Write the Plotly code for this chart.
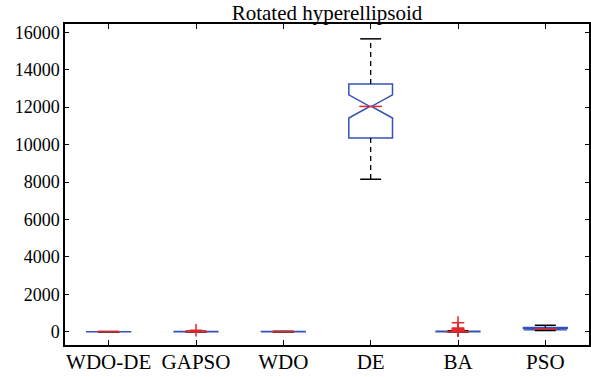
import plotly.graph_objects as go

# ---- data ----
categories = ["WDO-DE", "GAPSO", "WDO", "DE", "BA", "PSO"]
lower_whisker = [0, 0, 0, 8150, 0, 70]
q1 = [2, 3, 2, 10350, 2, 110]
median = [5, 8, 6, 12040, 8, 150]
q3 = [10, 15, 12, 13240, 25, 230]
upper_whisker = [20, 30, 25, 15650, 50, 350]
notch_half = [3, 4, 3, 620, 8, 40]
gapso_outliers = [80]
ba_outliers = [490, 200, 160, 130, 110, 90, 75, 60]
y_ticks = [0, 2000, 4000, 6000, 8000, 10000, 12000, 14000, 16000]
y_tick_labels = [str(v) for v in y_ticks]

# ---- styles ----
BLUE = "#3352b8"
RED = "#e8262a"
FONT = "Liberation Serif"
BOX_W = 0.5
NOTCH_W = 0.48
CAP_HALF = 0.12

pos = list(range(1, len(categories) + 1))
fig = go.Figure()

# boxes (whiskers drawn separately so they can be dashed black)
for i, p in enumerate(pos):
    fig.add_trace(go.Box(
        x=[p], q1=[q1[i]], median=[median[i]], q3=[q3[i]],
        lowerfence=[q1[i]], upperfence=[q3[i]],
        notchspan=[notch_half[i]], notched=True, notchwidth=NOTCH_W,
        width=BOX_W, whiskerwidth=0, boxpoints=False,
        line=dict(color=BLUE, width=1.5), fillcolor="rgba(0,0,0,0)",
        showlegend=False, hoverinfo="skip"))

# whiskers, caps, medians
wx, wy, cx, cy, mx, my = [], [], [], [], [], []
inner = BOX_W / 2 * (1 - NOTCH_W)
for i, p in enumerate(pos):
    wx += [p, p, None, p, p, None]
    wy += [q3[i], upper_whisker[i], None, q1[i], lower_whisker[i], None]
    cx += [p - CAP_HALF, p + CAP_HALF, None, p - CAP_HALF, p + CAP_HALF, None]
    cy += [upper_whisker[i], upper_whisker[i], None, lower_whisker[i], lower_whisker[i], None]
    mx += [p - inner, p + inner, None]
    my += [median[i], median[i], None]

fig.add_trace(go.Scatter(x=wx, y=wy, mode="lines",
                         line=dict(color="black", width=1.3, dash="5px,4px"),
                         showlegend=False, hoverinfo="skip"))
fig.add_trace(go.Scatter(x=cx, y=cy, mode="lines",
                         line=dict(color="black", width=1.5),
                         showlegend=False, hoverinfo="skip"))
fig.add_trace(go.Scatter(x=mx, y=my, mode="lines",
                         line=dict(color=RED, width=1.5),
                         showlegend=False, hoverinfo="skip"))

# outliers
ox = [pos[categories.index("GAPSO")]] * len(gapso_outliers) + \
     [pos[categories.index("BA")]] * len(ba_outliers)
oy = gapso_outliers + ba_outliers
fig.add_trace(go.Scatter(x=ox, y=oy, mode="markers",
                         marker=dict(symbol="cross-thin", size=9,
                                     line=dict(color=RED, width=1.5)),
                         showlegend=False, hoverinfo="skip"))

fig.update_layout(
    width=591, height=377,
    margin=dict(l=65, r=0, t=24, b=31.5),
    paper_bgcolor="white", plot_bgcolor="white",
    font=dict(family=FONT, size=19, color="black"),
    title=dict(text="Rotated hyperellipsoid", x=0.5, xref="paper",
               xanchor="center", y=1 - 13 / 377, yref="container",
               yanchor="middle", font=dict(family=FONT, size=21, color="black")),
)
fig.update_xaxes(range=[0.5, 6.5], tickvals=pos, ticktext=categories,
                 tickfont=dict(family=FONT, size=21, color="black"),
                 ticklabelstandoff=-3,
                 ticks="inside", ticklen=5, tickwidth=1, tickcolor="black",
                 showline=True, linecolor="black", linewidth=1.5, mirror="ticks",
                 showgrid=False, zeroline=False)
fig.update_yaxes(range=[-704, 16443], tickvals=y_ticks, ticktext=y_tick_labels,
                 tickfont=dict(family=FONT, size=18, color="black"),
                 ticks="inside", ticklen=4, tickwidth=1, tickcolor="black",
                 showline=True, linecolor="black", linewidth=1.5, mirror="ticks",
                 showgrid=False, zeroline=False)

fig.write_html("out.html")
